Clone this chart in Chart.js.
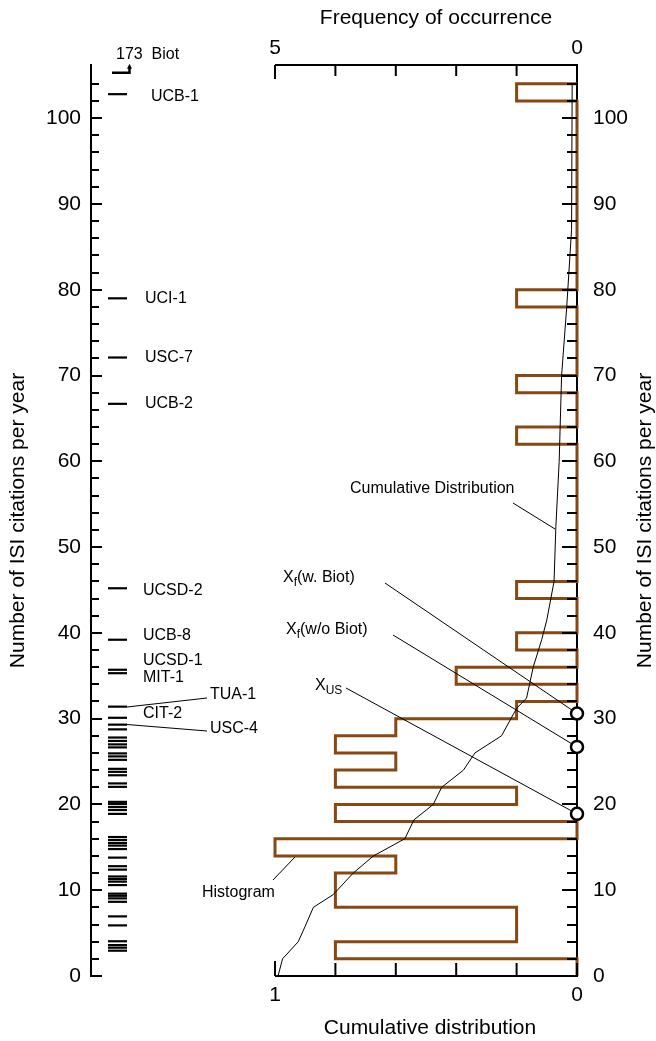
<!DOCTYPE html>
<html>
<head>
<meta charset="utf-8">
<script src="https://cdn.jsdelivr.net/npm/chart.js@4.4.1/dist/chart.umd.min.js"></script>
<style>
  body { margin: 0; background: #fff; }
  #wrap { width: 656px; height: 1041px; position: relative; }
</style>
</head>
<body>
<div id="wrap"><canvas id="citeChart"></canvas></div>
<script>
// ISI citations per year, one value per group (Biot = 173 is off scale)
const rugValues = [2.95, 3.3, 3.6, 4.05, 5.9, 6.95, 8.65, 9.05, 9.35, 9.6,
  10.6, 11.0, 11.3, 11.6, 12.4, 12.8, 13.8, 14.8, 15.2, 15.5, 15.85, 16.2,
  18.9, 19.35, 19.7, 20.05, 20.3, 22.05, 22.45, 23.4, 23.8, 24.15, 25.2, 25.6,
  25.95, 26.65, 27.0, 27.4, 27.8, 28.75, 29.3, 30.1, 31.4, 35.3, 35.7, 39.2,
  45.2, 66.7, 72.1, 79.0, 102.8];
const BIOT_VALUE = 173;

// histogram: bins of width 2 starting at 0
const BIN_WIDTH = 2;
const histFreq = [0, 4, 1, 1, 4, 4, 3, 5, 0, 4, 1, 4, 3, 4, 3, 1, 0, 2, 0, 1,
  0, 0, 1, 0, 0, 0, 0, 0, 0, 0, 0, 1, 0, 0, 1, 0, 0, 0, 0, 1,
  0, 0, 0, 0, 0, 0, 0, 0, 0, 0, 0, 1];

// cumulative distribution (fraction above a given citation rate)
const cumY = [0, 2, 4, 5.8, 8, 9.5, 12, 14, 16, 18.2, 20, 22, 24, 26, 28, 31.2,
  32.4, 36, 39.2, 41.5, 46, 52.4, 60, 70, 78, 87, 104];
const cumFrac = [0.99, 0.975, 0.923, 0.9, 0.873, 0.807, 0.741, 0.674, 0.57, 0.54,
  0.476, 0.448, 0.376, 0.338, 0.25, 0.2, 0.167, 0.145, 0.117, 0.1, 0.076, 0.07,
  0.059, 0.051, 0.034, 0.018, 0.016];

// reference rates marked on the right axis
const markerValues = [30.6, 26.7, 18.9];

const FONT = '"Liberation Sans", Arial, Helvetica, sans-serif';
const W = 656;
const AX_L = 91, AX_R = 577, HIST_L = 275, AX_T = 65, AX_B = 976;
const Y_MAX = 106.2;
const F_MAX = 5 * (AX_R - AX_L) / (AX_R - HIST_L);
const C_MAX = F_MAX / 5;
const RUG_LANE = 26.5;
const BROWN = 'rgb(136, 72, 18)';

// step outline of the histogram, from the top bin down to zero
const histPts = [{ x: 0, y: histFreq.length * BIN_WIDTH }];
for (let i = histFreq.length - 1; i >= 0; i--) {
  histPts.push({ x: histFreq[i], y: (i + 1) * BIN_WIDTH });
  histPts.push({ x: histFreq[i], y: i * BIN_WIDTH });
}
histPts.push({ x: 0, y: 0 });

const groupLabels = [
  ['UCB-1', 151, 97], ['UCI-1', 145, 299], ['USC-7', 145, 358], ['UCB-2', 145, 404],
  ['UCSD-2', 143, 591], ['UCB-8', 143, 636], ['UCSD-1', 143, 661], ['MIT-1', 143, 678],
  ['TUA-1', 210, 695], ['CIT-2', 143, 714], ['USC-4', 210, 729],
  ['Cumulative Distribution', 350, 489], ['Histogram', 202, 893]
];
const leaders = [
  [127, 707, 207, 698], [127, 724.5, 207, 731],
  [513, 503, 555, 529], [273, 880, 295, 857]
];
// label text parts: [text, subscript?], start point of leader line, marker index
const markerNotes = [
  { parts: [['X', 0], ['f', 1], ['(w. Biot)', 0]], x: 283, y: 578, from: [385, 583], idx: 0 },
  { parts: [['X', 0], ['f', 1], ['(w/o Biot)', 0]], x: 286, y: 630, from: [393, 635], idx: 1 },
  { parts: [['X', 0], ['US', 1]], x: 315, y: 686, from: [346, 688], idx: 2 }
];

function drawParts(ctx, parts, x, y) {
  let cx = x;
  parts.forEach(([t, sub]) => {
    ctx.font = (sub ? '12px ' : '16px ') + FONT;
    ctx.fillText(t, cx, sub ? y + 5 : y);
    cx += ctx.measureText(t).width;
  });
}

const axesPlugin = {
  id: 'axesPlugin',
  afterDatasetDraw(chart, args) {
    if (args.index !== 2) return;   // right after the histogram
    const ctx = chart.ctx;
    const y = chart.scales.y, xf = chart.scales.xf, xc = chart.scales.xc;
    ctx.save();
    ctx.strokeStyle = '#000';
    ctx.fillStyle = '#000';
    ctx.lineWidth = 2;

    // inward ticks every 2 on both vertical axes
    ctx.beginPath();
    for (let v = 0; v <= 104; v += 2) {
      const py = Math.round(y.getPixelForValue(v));
      const major = v % 10 === 0;
      ctx.moveTo(AX_L, py); ctx.lineTo(AX_L + (major ? 11 : 8), py);
      ctx.moveTo(AX_R, py); ctx.lineTo(AX_R - (major ? 15 : 10), py);
    }
    ctx.stroke();

    // top axis: frequency of occurrence
    const x5 = xf.getPixelForValue(5), x0 = xf.getPixelForValue(0);
    ctx.beginPath();
    ctx.moveTo(x5, AX_T); ctx.lineTo(x0 + 1, AX_T);
    for (let f = 0; f <= 5; f++) {
      const px = xf.getPixelForValue(f);
      ctx.moveTo(px, AX_T); ctx.lineTo(px, AX_T + (f === 5 ? 14 : 11));
    }
    // bottom axis: cumulative distribution
    ctx.moveTo(xc.getPixelForValue(1), AX_B); ctx.lineTo(xc.getPixelForValue(0) + 1, AX_B);
    for (let c = 0; c <= 5; c++) {
      const px = xc.getPixelForValue(c / 5);
      ctx.moveTo(px, AX_B); ctx.lineTo(px, AX_B - (c === 5 ? 15 : 13));
    }
    ctx.stroke();

    ctx.font = '21px ' + FONT;
    ctx.textAlign = 'center';
    ctx.textBaseline = 'middle';
    ctx.fillText('5', x5, 48);
    ctx.fillText('0', x0, 48);
    ctx.fillText('1', xc.getPixelForValue(1), 995);
    ctx.fillText('0', xc.getPixelForValue(0), 995);
    ctx.fillText('Frequency of occurrence', 436, 18);
    ctx.fillText('Cumulative distribution', 430, 1028);

    const midY = (AX_T + AX_B) / 2;
    [18, 645].forEach(tx => {
      ctx.save();
      ctx.translate(tx, midY);
      ctx.rotate(-Math.PI / 2);
      ctx.fillText('Number of ISI citations per year', 0, 0);
      ctx.restore();
    });

    // group names and notes
    ctx.textAlign = 'left';
    ctx.font = '16px ' + FONT;
    groupLabels.forEach(([t, lx, ly]) => ctx.fillText(t, lx, ly));
    ctx.fillText(BIOT_VALUE + '  Biot', 116, 55);

    ctx.lineWidth = 1;
    ctx.beginPath();
    leaders.forEach(([a, b, c, d]) => { ctx.moveTo(a, b); ctx.lineTo(c, d); });
    markerNotes.forEach(n => {
      drawParts(ctx, n.parts, n.x, n.y);
      const ex = xf.getPixelForValue(0), ey = y.getPixelForValue(markerValues[n.idx]);
      const dx = ex - n.from[0], dy = ey - n.from[1], len = Math.hypot(dx, dy);
      ctx.moveTo(n.from[0], n.from[1]);
      ctx.lineTo(ex - dx / len * 6, ey - dy / len * 6);
    });
    ctx.stroke();

    // off-scale Biot mark with an upward arrow
    const by = y.getPixelForValue(105.3);
    ctx.lineWidth = 2.5;
    ctx.beginPath();
    ctx.moveTo(112, by); ctx.lineTo(129.5, by); ctx.lineTo(129.5, by - 5);
    ctx.stroke();
    ctx.beginPath();
    ctx.moveTo(127, by - 4); ctx.lineTo(132, by - 4); ctx.lineTo(129.5, by - 9);
    ctx.closePath();
    ctx.fill();
    ctx.restore();
  }
};

const yTicks = {
  stepSize: 10,
  includeBounds: false,
  color: '#000',
  font: { family: FONT, size: 21 }
};

new Chart(document.getElementById('citeChart'), {
  type: 'scatter',
  data: {
    datasets: [
      {
        label: 'markers',
        data: markerValues.map(v => ({ x: 0, y: v })),
        xAxisID: 'xf',
        pointRadius: 6,
        pointBackgroundColor: '#fff',
        pointBorderColor: '#000',
        pointBorderWidth: 2.5,
        clip: false
      },
      {
        label: 'Cumulative Distribution',
        data: cumY.map((v, i) => ({ x: cumFrac[i], y: v })),
        xAxisID: 'xc',
        showLine: true,
        borderColor: '#000',
        borderWidth: 1,
        pointRadius: 0,
        tension: 0
      },
      {
        label: 'Histogram',
        data: histPts,
        xAxisID: 'xf',
        showLine: true,
        borderColor: BROWN,
        borderWidth: 3,
        pointRadius: 0,
        tension: 0,
        clip: false
      },
      {
        label: 'groups',
        data: rugValues.map(v => ({ x: RUG_LANE, y: v })),
        xAxisID: 'xr',
        pointStyle: 'line',
        pointRadius: 9.5,
        borderColor: '#000',
        pointBorderColor: '#000',
        pointBorderWidth: 2.2,
        borderWidth: 2.2
      }
    ]
  },
  options: {
    responsive: true,
    maintainAspectRatio: false,
    animation: false,
    events: [],
    layout: { padding: { top: AX_T, bottom: 1041 - AX_B, left: 0, right: 0 } },
    plugins: { legend: { display: false }, tooltip: { enabled: false } },
    scales: {
      xf: { type: 'linear', display: false, reverse: true, min: 0, max: F_MAX },
      xc: { type: 'linear', display: false, reverse: true, min: 0, max: C_MAX },
      xr: { type: 'linear', display: false, min: 0, max: AX_R - AX_L },
      y: {
        type: 'linear', position: 'left', min: 0, max: Y_MAX,
        grid: { display: false, drawTicks: false },
        border: { display: true, color: '#000', width: 2 },
        ticks: Object.assign({ padding: 10 }, yTicks),
        afterFit: s => { s.width = AX_L; }
      },
      y2: {
        type: 'linear', position: 'right', min: 0, max: Y_MAX,
        grid: { display: false, drawTicks: false },
        border: { display: true, color: '#000', width: 2 },
        ticks: Object.assign({ padding: 16 }, yTicks),
        afterFit: s => { s.width = W - AX_R; }
      }
    }
  },
  plugins: [axesPlugin]
});
</script>
</body>
</html>
